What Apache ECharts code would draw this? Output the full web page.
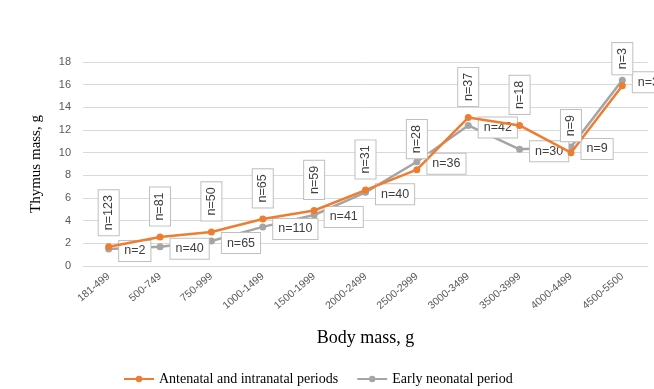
<!DOCTYPE html>
<html>
<head>
<meta charset="utf-8">
<script src="https://cdn.jsdelivr.net/npm/echarts@6/dist/echarts.min.js"></script>
<style>
  html, body { margin: 0; padding: 0; background: #fff; }
  #chart { width: 654px; height: 389px; }
</style>
</head>
<body>
<div id="chart"></div>
<script>
const categories = ['181-499', '500-749', '750-999', '1000-1499', '1500-1999', '2000-2499',
  '2500-2999', '3000-3499', '3500-3999', '4000-4499', '4500-5500'];
const antenatal = [1.7, 2.55, 3.0, 4.15, 4.9, 6.7, 8.5, 13.1, 12.4, 10.0, 15.9];
const antenatalN = [123, 81, 50, 65, 59, 31, 28, 37, 18, 9, 3];
const neonatal = [1.5, 1.7, 2.2, 3.45, 4.5, 6.5, 9.2, 12.4, 10.3, 10.5, 16.4];
const neonatalN = [2, 40, 65, 110, 41, 40, 36, 42, 30, 9, 3];

const ORANGE = '#ED7D31';
const GRAY = '#A5A5A5';

const boxLabel = {
  show: true,
  color: '#404040',
  fontFamily: 'Liberation Sans',
  fontSize: 12.5,
  backgroundColor: '#fff',
  borderColor: '#BFBFBF',
  borderWidth: 1,
  padding: [4, 5, 3, 5]
};

const chart = echarts.init(document.getElementById('chart'));

chart.setOption({
  animation: false,
  grid: { left: 83, right: 6, top: 62, bottom: 123 },
  legend: {
    left: 118,
    bottom: -2,
    itemWidth: 30,
    itemHeight: 8,
    itemGap: 18,
    textStyle: { fontFamily: 'Liberation Serif', fontSize: 14, color: '#000' },
    data: ['Antenatal and intranatal periods', 'Early neonatal period']
  },
  xAxis: {
    type: 'category',
    data: categories,
    name: 'Body mass, g',
    nameLocation: 'middle',
    nameGap: 63,
    nameTextStyle: { fontFamily: 'Liberation Serif', fontSize: 18, color: '#000' },
    axisLine: { lineStyle: { color: '#D9D9D9' } },
    axisTick: { show: false },
    axisLabel: {
      rotate: 40,
      interval: 0,
      color: '#595959',
      fontFamily: 'Liberation Sans',
      fontSize: 10.5,
      margin: 9
    }
  },
  yAxis: {
    type: 'value',
    min: 0,
    max: 18,
    interval: 2,
    name: 'Thymus mass, g',
    nameLocation: 'middle',
    nameGap: 39,
    nameTextStyle: { fontFamily: 'Liberation Serif', fontSize: 15, color: '#000' },
    axisLabel: { color: '#595959', fontFamily: 'Liberation Sans', fontSize: 11, margin: 12 },
    splitLine: { lineStyle: { color: '#D9D9D9' } }
  },
  series: [
    {
      name: 'Antenatal and intranatal periods',
      type: 'line',
      data: antenatal,
      symbol: 'circle',
      symbolSize: 7,
      lineStyle: { color: ORANGE, width: 2.5 },
      itemStyle: { color: ORANGE },
      z: 3,
      label: {
        ...boxLabel,
        position: 'top',
        distance: 8,
        rotate: 90,
        align: 'left',
        verticalAlign: 'middle',
        formatter: (p) => 'n=' + antenatalN[p.dataIndex]
      }
    },
    {
      name: 'Early neonatal period',
      type: 'line',
      data: neonatal,
      symbol: 'circle',
      symbolSize: 7,
      lineStyle: { color: GRAY, width: 2.5 },
      itemStyle: { color: GRAY },
      z: 2,
      label: {
        ...boxLabel,
        position: 'right',
        distance: 7,
        offset: [0, 2],
        formatter: (p) => 'n=' + neonatalN[p.dataIndex]
      }
    }
  ]
});
</script>
</body>
</html>
